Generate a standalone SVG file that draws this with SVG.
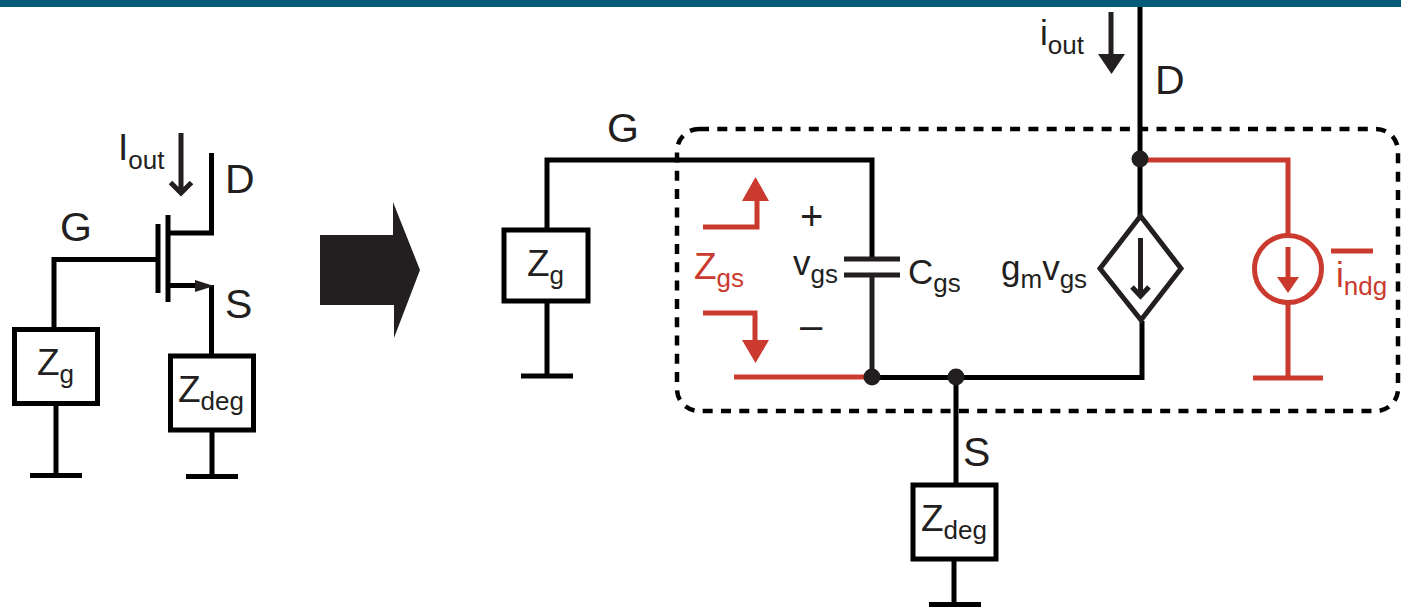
<svg xmlns="http://www.w3.org/2000/svg" width="1401" height="607" viewBox="0 0 1401 607">
<style>
text{font-family:"Liberation Sans",Arial,sans-serif;fill:#231f20;font-size:41px}
.z{font-size:37px}.m{font-size:35px}.p{font-size:40px}.sub{font-size:26px}
.r{fill:#cb3a2e}
.w{fill:none;stroke:#000;stroke-width:5}
.d{fill:none;stroke:#231f20;stroke-width:5}
.rw{fill:none;stroke:#cb3a2e;stroke-width:5}
.box{fill:#fff;stroke:#000;stroke-width:5}
.f{fill:#231f20}.rf{fill:#cb3a2e}
</style>
<rect x="0" y="0" width="1401" height="7" fill="#005a78"/>
<g id="connectors">
<path class="w" d="M211.500 153V233H168M54 327V259.500H157M170 285.500H196M211.500 285V354M56 405V475M30 475.500H82M212 431V476M186 476.500H238"/>
<path class="d" d="M181 133V193M170.500 182.500L181 193L191.500 182.500"/>
<path class="w" d="M158 224V293M168 215V302"/>
<path class="f" d="M195 280L214 286L195 292Z"/>
<path class="w" d="M547 228V160H872V258M547 303V376M521 376H573"/>
<path class="d" d="M872 275V377"/>
<path class="w" d="M872 377.500H1142V321M956 377V484M1140 7V216M954 560V604M929 604.500H981"/>
<path class="d" d="M1111 12V56"/>
<path class="f" d="M1098 54H1125L1111.500 74Z"/>
<path class="d" d="M844 259H900M844 275H900"/>
<path class="rw" d="M734 377H866M1144 160H1288V234M1288 304V378M1253 378H1323M1331 251H1373"/>
<path class="rw" d="M703 227H757V200M703 313H755V341"/>
<path class="rf" d="M742 201H769L755.500 177ZM742 340H769L755.500 363Z"/>
</g>
<rect id="boundary" x="677" y="129" width="721" height="282" rx="22" fill="none" stroke="#000" stroke-width="4.500" stroke-dasharray="10 8.300"/>
<g id="junctions" class="f">
<circle cx="1140" cy="159" r="8.500"/><circle cx="872" cy="377" r="8.500"/><circle cx="956" cy="377" r="8.500"/>
</g>
<g id="left-labels">
<text x="118" y="160" class="z">I<tspan class="sub" dy="9">out</tspan></text>
<text x="225" y="193">D</text><text x="60" y="241">G</text><text x="225" y="318">S</text>
</g>
<g id="left-zg"><rect class="box" x="14.500" y="329.500" width="83" height="74"/><text class="z" x="37" y="375">Z<tspan class="sub" dy="8">g</tspan></text></g>
<g id="left-zdeg"><rect class="box" x="170.500" y="356" width="83" height="74"/><text class="z" x="178" y="402">Z<tspan class="sub" dy="8">deg</tspan></text></g>
<polygon id="big-arrow" class="f" points="320,235 393,235 393,202 420,270 394,338 394,305 320,305"/>
<g id="right-zg"><rect class="box" x="504" y="230" width="84" height="71"/><text class="z" x="527" y="276">Z<tspan class="sub" dy="8">g</tspan></text></g>
<g id="right-zdeg"><rect class="box" x="913" y="485" width="83" height="74"/><text class="z" x="921" y="531">Z<tspan class="sub" dy="8">deg</tspan></text></g>
<g id="right-labels">
<text x="607" y="142">G</text><text x="1155" y="94">D</text><text x="963" y="466">S</text>
<text x="1040" y="45" class="m">i<tspan class="sub" dy="9">out</tspan></text>
<text x="793" y="275" class="m">v<tspan class="sub" dy="8">gs</tspan></text>
<text x="908" y="284" class="m">C<tspan class="sub" dy="8">gs</tspan></text>
<text x="1001" y="280" class="m">g<tspan class="sub" dy="8">m</tspan><tspan dy="-8">v</tspan><tspan class="sub" dy="8">gs</tspan></text>
<text x="800" y="230" class="p">+</text><text x="800" y="339" class="p">–</text>
<text x="694" y="279" class="z r">Z<tspan class="sub r" dy="8">gs</tspan></text>
<text x="1336" y="287" class="m r">i<tspan class="sub r" dy="8">ndg</tspan></text>
</g>
<g id="vccs">
<path d="M1140.500 216L1181 268.500L1141 320L1100 268.500Z" fill="#fff" stroke="#231f20" stroke-width="5"/>
<path class="d" d="M1140.500 238V296M1132 287L1140.500 296L1149 287"/>
</g>
<g id="noise-source">
<circle class="rw" cx="1288" cy="269" r="33.500" fill="#fff"/>
<path class="rw" d="M1288 247V279"/><path class="rf" d="M1277 277H1299L1288 293Z"/>
</g>
</svg>
